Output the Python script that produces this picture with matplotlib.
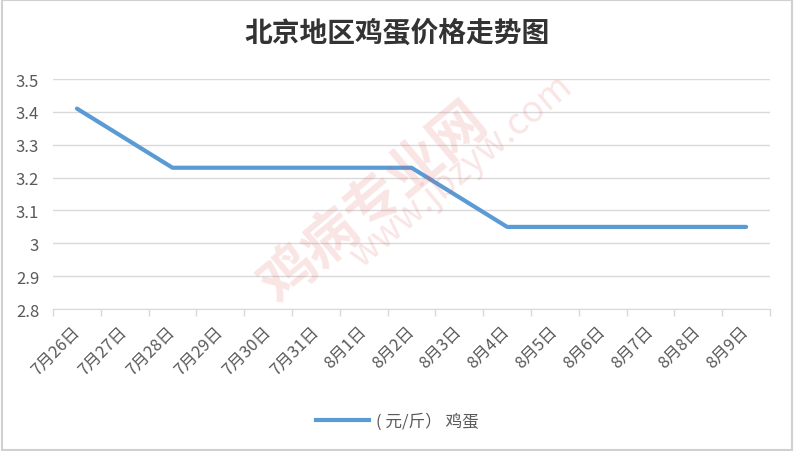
import matplotlib.pyplot as plt
from matplotlib.lines import Line2D

plt.rcParams['font.family'] = ['Noto Sans CJK SC', 'DejaVu Sans']

dates = ["7月26日", "7月27日", "7月28日", "7月29日", "7月30日", "7月31日",
         "8月1日", "8月2日", "8月3日", "8月4日", "8月5日", "8月6日",
         "8月7日", "8月8日", "8月9日"]
prices = [3.41, 3.32, 3.23, 3.23, 3.23, 3.23, 3.23, 3.23,
          3.14, 3.05, 3.05, 3.05, 3.05, 3.05, 3.05]
yticks = [2.8, 2.9, 3.0, 3.1, 3.2, 3.3, 3.4, 3.5]
ylabels = ["2.8", "2.9", "3", "3.1", "3.2", "3.3", "3.4", "3.5"]

blue = "#5B9BD5"
grid = "#D9D9D9"
txt = "#595959"

fig = plt.figure(figsize=(7.94, 4.52), dpi=100)
ax = fig.add_axes([0.0668, 0.314, 0.903, 0.509])

x = list(range(len(dates)))
ax.plot(x, prices, color=blue, lw=3, solid_capstyle="round", zorder=3)

ax.set_xlim(-0.5, len(dates) - 0.5)
ax.set_ylim(2.8, 3.5)
ax.set_yticks(yticks)
ax.set_yticklabels(ylabels, color=txt, fontsize=12)
ax.tick_params(axis="y", length=0, pad=10)
ax.yaxis.grid(True, color=grid, lw=1)
ax.set_axisbelow(True)

ax.set_xticks(x)
ax.set_xticklabels(dates, rotation=45, ha="right", va="center",
                   rotation_mode="anchor", color=txt, fontsize=12)
ax.tick_params(axis="x", length=0, pad=14)
ax.set_xticks([i - 0.5 for i in range(len(dates) + 1)], minor=True)
ax.tick_params(axis="x", which="minor", length=5, color=grid, width=1)

for s in ["top", "right", "left"]:
    ax.spines[s].set_visible(False)
ax.spines["bottom"].set_color(grid)

fig.text(0.5, 0.925, "北京地区鸡蛋价格走势图", ha="center", va="center",
         fontsize=20, color="#333333", fontweight="bold")

# watermark
fig.text(0.47, 0.55, "鸡病专业网", rotation=40, fontsize=40, color="#E05050",
         alpha=0.15, ha="center", va="center", fontweight="bold")
fig.text(0.58, 0.62, "www.jbzyw.com", rotation=40, fontsize=26, color="#E05050",
         alpha=0.15, ha="center", va="center")

handle = Line2D([], [], color=blue, lw=3)
fig.legend([handle], ["( 元/斤） 鸡蛋"], loc="center", bbox_to_anchor=(0.5, 0.066),
           frameon=False, fontsize=12, labelcolor=txt, handlelength=3.2,
           handletextpad=0.4)

border = plt.Rectangle((0.002, 0.002), 0.996, 0.996, transform=fig.transFigure,
                       fill=False, edgecolor="#D0D0D0", lw=1.5)
fig.patches.append(border)

fig.savefig("out.png", dpi=100)
